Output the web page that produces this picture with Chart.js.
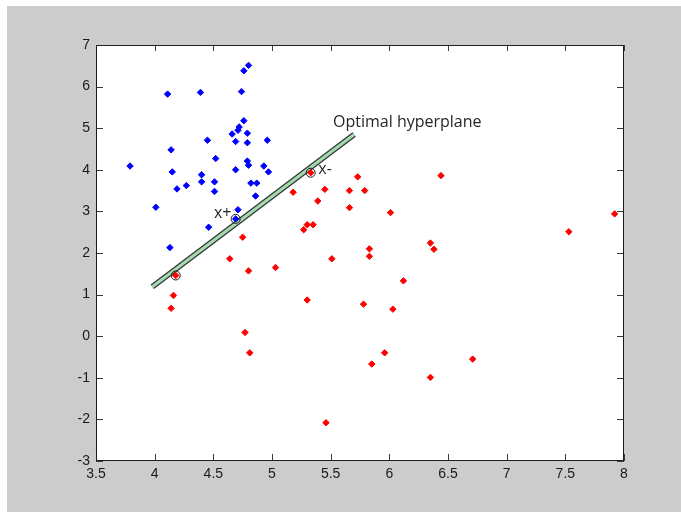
<!DOCTYPE html>
<html>
<head>
<meta charset="utf-8">
<script src="https://cdn.jsdelivr.net/npm/chart.js@4/dist/chart.umd.min.js"></script>
<style>
  html, body { margin: 0; padding: 0; background: #ffffff; }
  #svm { display: block; }
</style>
</head>
<body>
<canvas id="svm" width="681" height="512"></canvas>
<script>
// class +1 (blue)
var blueX = [4.80, 4.76, 4.11, 4.39, 4.74, 4.76, 4.72, 4.71, 4.79, 4.66, 4.69, 4.79, 4.45, 4.96,
             4.14, 4.52, 4.79, 4.80, 3.79, 4.69, 4.93, 4.15, 4.97, 4.40, 4.40, 4.51, 4.82, 4.87,
             4.27, 4.19, 4.51, 4.86, 4.01, 4.71, 4.69, 4.46, 4.13];
var blueY = [6.51, 6.38, 5.82, 5.86, 5.88, 5.18, 5.03, 4.95, 4.88, 4.86, 4.68, 4.65, 4.71, 4.71,
             4.48, 4.27, 4.21, 4.11, 4.09, 4.00, 4.09, 3.95, 3.95, 3.88, 3.71, 3.71, 3.68, 3.68,
             3.62, 3.54, 3.48, 3.37, 3.10, 3.04, 2.82, 2.62, 2.13];
// class -1 (red)
var redX = [5.33, 5.73, 5.45, 5.66, 5.79, 5.18, 5.39, 5.66, 5.30, 5.35, 5.27, 4.75, 5.83,
            5.83, 4.64, 5.51, 5.03, 4.80, 4.18, 4.16, 4.14, 5.30, 6.44, 6.01, 6.35, 6.38,
            6.12, 5.78, 6.03, 4.77, 4.81, 5.96, 5.85, 6.71, 6.35, 5.46, 7.92, 7.53];
var redY = [3.93, 3.83, 3.53, 3.50, 3.50, 3.46, 3.25, 3.09, 2.68, 2.68, 2.56, 2.38, 2.10,
            1.92, 1.86, 1.86, 1.65, 1.57, 1.46, 0.98, 0.67, 0.87, 3.86, 2.97, 2.24, 2.09,
            1.33, 0.77, 0.65, 0.09, -0.40, -0.40, -0.67, -0.55, -0.99, -2.08, 2.94, 2.51];
// support vectors (circled)
var svX = [4.69, 5.33, 4.18];
var svY = [2.82, 3.93, 1.46];
// separating line
var planeX = [3.98, 5.70];
var planeY = [1.19, 4.85];

var xTicks = [3.5, 4, 4.5, 5, 5.5, 6, 6.5, 7, 7.5, 8];
var yTicks = [-3, -2, -1, 0, 1, 2, 3, 4, 5, 6, 7];

var notes = [
  { text: "Optimal hyperplane", x: 5.52, y: 5.02 },
  { text: "x+", x: 4.505, y: 2.84 },
  { text: "x-", x: 5.395, y: 3.90 }
];

function pts(xs, ys) {
  return xs.map(function(v, i) { return { x: v, y: ys[i] }; });
}

var figurePlugin = {
  id: "figure",
  beforeDraw: function(chart) {
    var ctx = chart.ctx;
    var a = chart.chartArea;
    ctx.save();
    ctx.fillStyle = "#ffffff";
    ctx.fillRect(0, 0, chart.width, chart.height);
    ctx.fillStyle = "#cccccc";
    ctx.fillRect(7, 6, chart.width - 7, chart.height - 6);
    ctx.fillStyle = "#ffffff";
    ctx.fillRect(a.left, a.top, a.right - a.left, a.bottom - a.top);
    ctx.restore();
  },
  afterDraw: function(chart) {
    var ctx = chart.ctx;
    var a = chart.chartArea;
    var xs = chart.scales.x;
    var ys = chart.scales.y;
    ctx.save();
    // tick marks on all four sides, pointing inwards
    ctx.strokeStyle = "#3c3c3c";
    ctx.lineWidth = 1;
    ctx.beginPath();
    xTicks.forEach(function(t) {
      var px = Math.round(xs.getPixelForValue(t)) + 0.5;
      ctx.moveTo(px, a.bottom); ctx.lineTo(px, a.bottom - 7);
      ctx.moveTo(px, a.top); ctx.lineTo(px, a.top + 6);
    });
    yTicks.forEach(function(t) {
      var py = Math.round(ys.getPixelForValue(t)) + 0.5;
      ctx.moveTo(a.left, py); ctx.lineTo(a.left + 7, py);
      ctx.moveTo(a.right, py); ctx.lineTo(a.right - 7, py);
    });
    ctx.stroke();
    // axes box
    ctx.strokeStyle = "#1e1e1e";
    ctx.strokeRect(Math.round(a.left) + 0.5, Math.round(a.top) + 0.5,
                   Math.round(a.right - a.left) - 1, Math.round(a.bottom - a.top) - 1);
    // text notes
    ctx.fillStyle = "#262626";
    ctx.textBaseline = "alphabetic";
    ctx.textAlign = "left";
    notes.forEach(function(n, i) {
      ctx.font = i === 0 ? "16px 'Open Sans'" : "16px 'Open Sans'";
      ctx.fillText(n.text, xs.getPixelForValue(n.x), ys.getPixelForValue(n.y));
    });
    ctx.restore();
  }
};

var tickFont = { family: "'Liberation Sans', Arial, sans-serif", size: 14 };

function plainLabel(value) {
  return String(value);
}

new Chart(document.getElementById("svm").getContext("2d"), {
  type: "scatter",
  data: {
    datasets: [
      {
        label: "support vectors",
        data: pts(svX, svY),
        pointStyle: "circle",
        pointRadius: 4.5,
        borderColor: "#202020",
        borderWidth: 1,
        backgroundColor: "rgba(0,0,0,0)",
        order: 1
      },
      {
        label: "+1",
        data: pts(blueX, blueY),
        pointStyle: "rectRot",
        pointRadius: 3.2,
        backgroundColor: "#0000ff",
        borderColor: "#0000ff",
        borderWidth: 1,
        order: 2
      },
      {
        label: "-1",
        data: pts(redX, redY),
        pointStyle: "rectRot",
        pointRadius: 3.2,
        backgroundColor: "#ff0000",
        borderColor: "#ff0000",
        borderWidth: 1,
        order: 2
      },
      {
        label: "hyperplane core",
        data: pts(planeX, planeY),
        showLine: true,
        borderColor: "#a3dbb0",
        borderWidth: 3,
        pointRadius: 0,
        order: 3
      },
      {
        label: "hyperplane",
        data: pts(planeX, planeY),
        showLine: true,
        borderColor: "#333333",
        borderWidth: 5.5,
        pointRadius: 0,
        order: 4
      }
    ]
  },
  options: {
    responsive: false,
    animation: false,
    layout: { padding: { left: 0, top: 45, right: 57, bottom: 0 } },
    plugins: { legend: { display: false }, tooltip: { enabled: false } },
    scales: {
      x: {
        type: "linear",
        min: 3.5,
        max: 8,
        afterBuildTicks: function(scale) {
          scale.ticks = xTicks.map(function(v) { return { value: v }; });
        },
        afterFit: function(scale) { scale.height = 51; },
        grid: { display: false, drawTicks: false },
        border: { display: false },
        ticks: { font: tickFont, color: "#1a1a1a", padding: 5, maxRotation: 0, autoSkip: false,
                 callback: plainLabel }
      },
      y: {
        type: "linear",
        min: -3,
        max: 7,
        afterBuildTicks: function(scale) {
          scale.ticks = yTicks.map(function(v) { return { value: v }; });
        },
        afterFit: function(scale) { scale.width = 96; },
        grid: { display: false, drawTicks: false },
        border: { display: false },
        ticks: { font: tickFont, color: "#1a1a1a", padding: 6, autoSkip: false,
                 callback: plainLabel }
      }
    }
  },
  plugins: [figurePlugin]
});
</script>
</body>
</html>
